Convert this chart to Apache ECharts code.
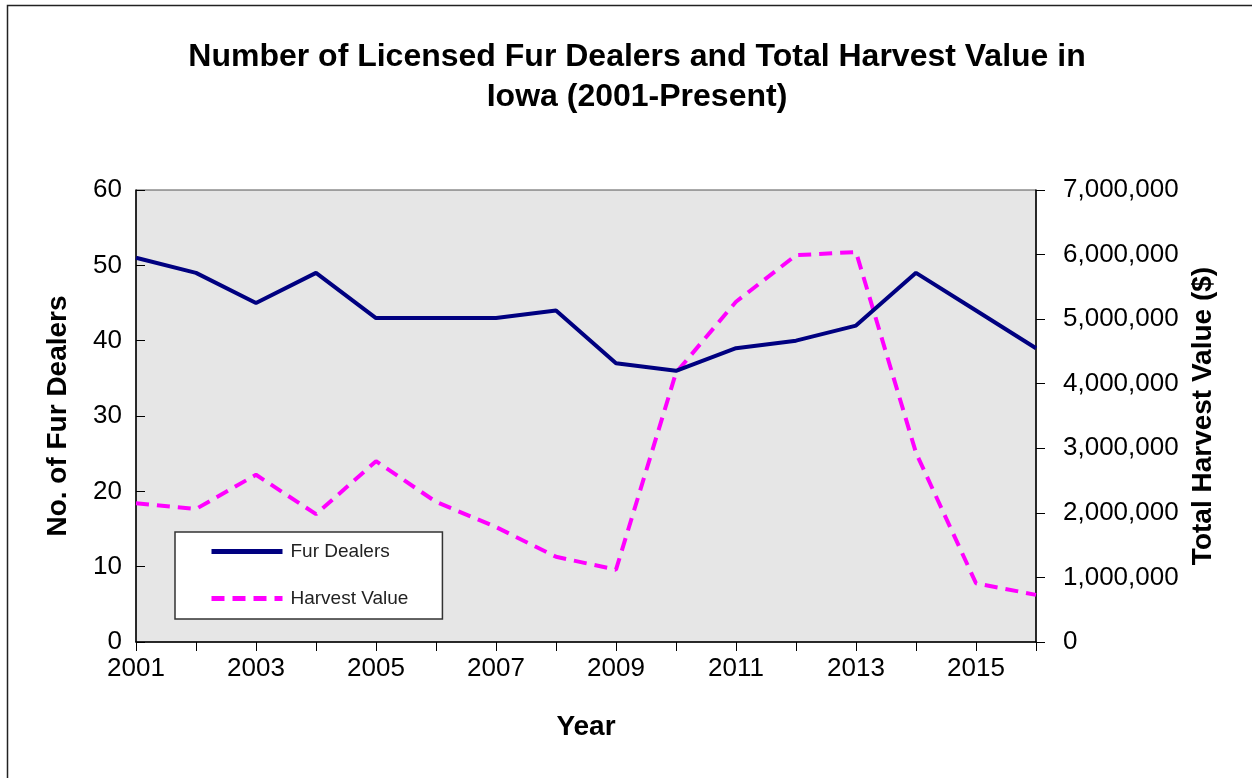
<!DOCTYPE html>
<html>
<head>
<meta charset="utf-8">
<script src="https://cdn.jsdelivr.net/npm/echarts@6/dist/echarts.min.js"></script>
<style>
  html, body { margin: 0; padding: 0; background: #fff; }
  #chart { width: 1252px; height: 778px; }
</style>
</head>
<body>
<div id="chart"></div>
<script>
// Iowa licensed fur dealers and total fur harvest value, 2001-2016
const years = ['2001','2002','2003','2004','2005','2006','2007','2008',
               '2009','2010','2011','2012','2013','2014','2015','2016'];
const furDealers = [51, 49, 45, 49, 43, 43, 43, 44, 37, 36, 39, 40, 42, 49, 44, 39];
const harvestValue = [2150000, 2060000, 2590000, 1980000, 2800000, 2170000, 1780000, 1320000,
                      1120000, 4170000, 5270000, 5990000, 6040000, 2930000, 910000, 730000];
const leftTicks = { min: 0, max: 60, step: 10 };
const rightTicks = { min: 0, max: 7000000, step: 1000000 };

const FONT = '"Liberation Sans", Arial, sans-serif';
const chart = echarts.init(document.getElementById('chart'));

chart.setOption({
  backgroundColor: '#ffffff',
  animation: false,
  textStyle: { fontFamily: FONT },
  title: {
    text: 'Number of Licensed Fur Dealers and Total Harvest Value in\nIowa (2001-Present)',
    left: 632,
    textAlign: 'center',
    top: 32,
    textStyle: { fontFamily: FONT, fontSize: 32, fontWeight: 'bold', color: '#000', lineHeight: 40 }
  },
  graphic: [{
    type: 'rect',
    shape: { x: 7.5, y: 5.5, width: 1300, height: 850 },
    style: { fill: 'none', stroke: '#222', lineWidth: 1.5 },
    silent: true
  }],
  legend: {
    orient: 'vertical',
    left: 175,
    top: 532,
    padding: [10, 34, 11, 34],
    itemGap: 28,
    itemWidth: 71,
    itemHeight: 14,
    backgroundColor: '#ffffff',
    borderColor: '#333',
    borderWidth: 1.5,
    itemStyle: { opacity: 0 },
    lineStyle: { width: 5 },
    textStyle: { fontFamily: FONT, fontSize: 19, color: '#222', padding: [0, 0, 0, 3] },
    data: ['Fur Dealers', 'Harvest Value']
  },
  grid: {
    left: 136,
    right: 216,
    top: 190,
    bottom: 136,
    show: true,
    backgroundColor: '#e6e6e6',
    borderColor: '#555',
    borderWidth: 1
  },
  xAxis: {
    type: 'category',
    data: years,
    boundaryGap: false,
    name: 'Year',
    nameLocation: 'middle',
    nameGap: 71,
    nameTextStyle: { fontFamily: FONT, fontSize: 28, fontWeight: 'bold', color: '#000' },
    axisLine: { lineStyle: { color: '#000', width: 1.5 } },
    axisTick: { interval: 0, length: 9, lineStyle: { color: '#000' } },
    axisLabel: { interval: 1, margin: 14, fontFamily: FONT, fontSize: 26, color: '#000' },
    splitLine: { show: false }
  },
  yAxis: [{
    type: 'value',
    min: leftTicks.min,
    max: leftTicks.max,
    interval: leftTicks.step,
    name: 'No. of Fur Dealers',
    nameLocation: 'middle',
    nameGap: 64,
    nameTextStyle: { fontFamily: FONT, fontSize: 28, fontWeight: 'bold', color: '#000' },
    axisLine: { show: true, lineStyle: { color: '#000', width: 1.5 } },
    axisTick: { show: true, inside: true, length: 9, lineStyle: { color: '#000' } },
    axisLabel: { margin: 14, fontFamily: FONT, fontSize: 26, color: '#000' },
    splitLine: { show: false }
  }, {
    type: 'value',
    position: 'right',
    min: rightTicks.min,
    max: rightTicks.max,
    interval: rightTicks.step,
    name: 'Total Harvest Value ($)',
    nameLocation: 'middle',
    nameGap: 150,
    nameRotate: 90,
    nameTextStyle: { fontFamily: FONT, fontSize: 28, fontWeight: 'bold', color: '#000' },
    axisLine: { show: true, lineStyle: { color: '#000', width: 1.5 } },
    axisTick: { show: true, length: 9, lineStyle: { color: '#000' } },
    axisLabel: {
      margin: 27, fontFamily: FONT, fontSize: 26, color: '#000',
      formatter: v => v.toLocaleString('en-US')
    },
    splitLine: { show: false }
  }],
  series: [{
    name: 'Fur Dealers',
    type: 'line',
    yAxisIndex: 0,
    data: furDealers,
    symbol: 'none',
    color: '#000080',
    lineStyle: { color: '#000080', width: 4 },
    z: 3
  }, {
    name: 'Harvest Value',
    type: 'line',
    yAxisIndex: 1,
    data: harvestValue,
    symbol: 'none',
    color: '#ff00ff',
    lineStyle: { color: '#ff00ff', width: 4, type: [13, 8] },
    z: 2
  }]
});
</script>
</body>
</html>
